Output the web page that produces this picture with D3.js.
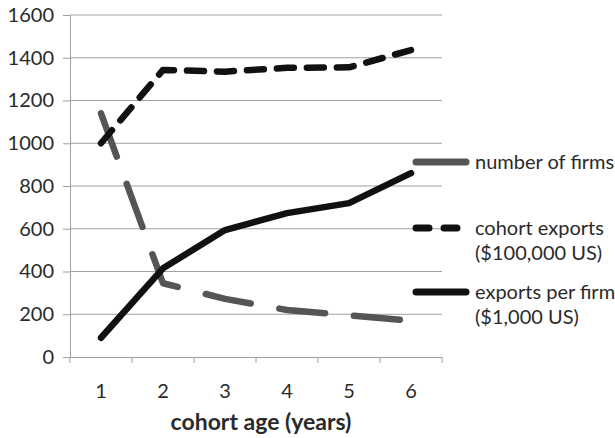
<!DOCTYPE html>
<html><head><meta charset="utf-8">
<script src="https://cdn.jsdelivr.net/npm/d3@7"></script>
<style>body{margin:0;background:#fff}svg{display:block}text{font-family:Lato,"Open Sans",sans-serif;fill:#2a2a2a}</style>
</head><body>
<svg id="c" width="615" height="438"></svg>
<script>
const categories = ["1","2","3","4","5","6"];
const numberOfFirms = [1140, 345, 272, 220, 195, 170];
const cohortExports = [1000, 1343, 1335, 1353, 1355, 1436];
const exportsPerFirm = [90, 415, 594, 673, 720, 860];
const yTicks = [0,200,400,600,800,1000,1200,1400,1600];

const svg = d3.select("#c");
const L = 70, R = 442, T = 15, B = 357;
const x = d3.scaleBand().domain(categories).range([L, R]);
const y = d3.scaleLinear().domain([0, 1600]).range([B, T]);
const FONT = "Lato,'Open Sans',sans-serif";

// gridlines
svg.append("g").selectAll("line").data(yTicks.filter(d=>d>0)).join("line")
  .attr("x1", L).attr("x2", R).attr("y1", d=>y(d)).attr("y2", d=>y(d))
  .attr("stroke", "#a0a0a0").attr("stroke-width", 1);

// y axis
const ya = svg.append("g").attr("transform", `translate(${L},0)`)
  .call(d3.axisLeft(y).tickValues(yTicks).tickSize(7).tickPadding(9).tickFormat(d3.format("d")));
ya.select(".domain").attr("stroke", "#a0a0a0");
ya.selectAll(".tick line").attr("stroke", "#a0a0a0");
ya.selectAll("text").attr("font-size", 20).style("font-family", FONT).attr("fill","#2a2a2a");

// x axis
const xa = svg.append("g").attr("transform", `translate(0,${B})`)
  .call(d3.axisBottom(x).tickSize(0).tickPadding(27));
xa.select(".domain").attr("stroke", "#a0a0a0");
xa.selectAll("text").attr("font-size", 20).style("font-family", FONT).attr("fill","#2a2a2a");
// boundary ticks
const bounds = categories.map(c => x(c)).concat([R]);
svg.append("g").selectAll("line").data(bounds).join("line")
  .attr("x1", d=>d).attr("x2", d=>d).attr("y1", B).attr("y2", B+6)
  .attr("stroke", "#a0a0a0");

svg.append("text").attr("x", 261).attr("y", 430).attr("text-anchor","middle")
  .attr("font-size", 23).attr("font-weight","bold").text("cohort age (years)");

const line = d3.line().x((d,i)=>x(categories[i]) + x.bandwidth()/2).y(d=>y(d));

const series = [
  {name:"number of firms", data:numberOfFirms, color:"#555555", dash:"46,29", ldash:null},
  {name:"cohort exports", data:cohortExports, color:"#111111", dash:"17,13", ldash:"13,15"},
  {name:"exports per firm", data:exportsPerFirm, color:"#111111", dash:null, ldash:null}
];
series.forEach(s => {
  svg.append("path").attr("d", line(s.data)).attr("fill","none")
    .attr("stroke", s.color).attr("stroke-width", 6.5)
    .attr("stroke-linecap", "round").attr("stroke-linejoin","round")
    .attr("stroke-dasharray", s.dash);
});

// legend
const legend = [
  {s:series[0], y:162, lines:["number of firms"]},
  {s:series[1], y:228, lines:["cohort exports","($100,000 US)"]},
  {s:series[2], y:292, lines:["exports per firm","($1,000 US)"]}
];
legend.forEach(l => {
  svg.append("line").attr("x1", 416).attr("x2", 466).attr("y1", l.y).attr("y2", l.y)
    .attr("stroke", l.s.color).attr("stroke-width", 7).attr("stroke-linecap","round")
    .attr("stroke-dasharray", l.s.ldash);
  l.lines.forEach((t,i) => {
    svg.append("text").attr("x", 475).attr("y", l.y + 7 + i*25).attr("font-size", 20).text(t);
  });
});
</script>
</body></html>
